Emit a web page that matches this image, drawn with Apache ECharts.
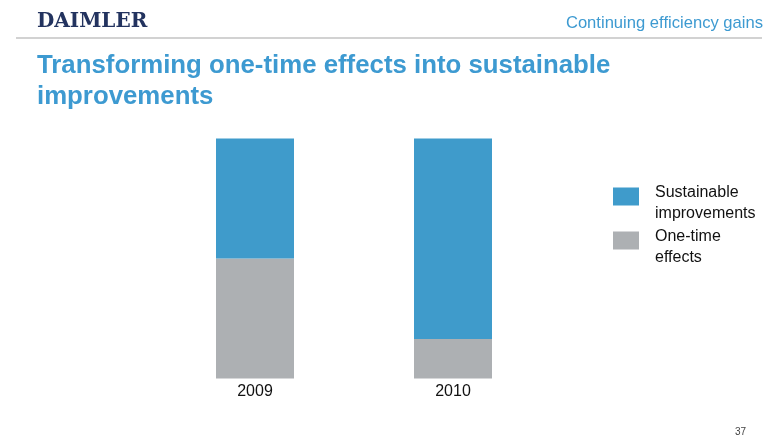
<!DOCTYPE html>
<html><head><meta charset="utf-8">
<script src="https://cdn.jsdelivr.net/npm/echarts@6/dist/echarts.min.js"></script>
<style>html,body{margin:0;padding:0;background:#fff}#c{width:780px;height:439px}</style>
</head><body><div id="c"></div>
<script>
const categories = ['2009', '2010'];
const oneTimeEffects = [50, 16.5];
const sustainableImprovements = [50, 83.5];
const seriesNames = ['Sustainable\nimprovements', 'One-time\neffects'];

const chart = echarts.init(document.getElementById('c'));
const blue = '#3f9bcb', grey = '#adb0b3', titleBlue = '#3d9ad1';
chart.setOption({
  animation: false,
  title: [
    { text: 'DAIMLER', left: 37, top: 12, padding: 0, textStyle: { fontFamily: 'DejaVu Serif', fontSize: 20, fontWeight: 'bold', color: '#23335f' } },
    { text: 'Continuing efficiency gains', right: 17, top: 15, padding: 0, textStyle: { fontFamily: 'Liberation Sans', fontSize: 16.6, fontWeight: 'normal', color: titleBlue } },
    { text: 'Transforming one-time effects into sustainable\nimprovements', left: 37, top: 50, padding: 0, textStyle: { fontFamily: 'Liberation Sans', fontSize: 25.8, fontWeight: 'bold', color: titleBlue, lineHeight: 31 } },
    { text: '37', right: 34, top: 427, padding: 0, textStyle: { fontFamily: 'Liberation Sans', fontSize: 10, fontWeight: 'normal', color: '#444' } }
  ],
  graphic: [
    { type: 'line', shape: { x1: 16, y1: 38, x2: 762, y2: 38 }, style: { stroke: '#d2d2d2', lineWidth: 2 } }
  ],
  legend: {
    orient: 'vertical', left: 613, top: 182, padding: 0, itemWidth: 26, itemHeight: 31, itemGap: 2,
    icon: 'path://M0,0H26V18H0Z M0,31H0.01V31Z',
    data: [seriesNames[0], seriesNames[1]],
    textStyle: { fontFamily: 'Liberation Sans', fontSize: 16, color: '#111', lineHeight: 21, padding: [0, 0, 0, 11] }
  },
  grid: { left: 156, width: 396, top: 138.5, height: 240, containLabel: false },
  xAxis: {
    type: 'category', data: categories,
    axisLine: { show: false }, axisTick: { show: false },
    axisLabel: { fontFamily: 'Liberation Sans', fontSize: 16, color: '#111', margin: 5 }
  },
  yAxis: { type: 'value', min: 0, max: 100, show: false, splitLine: { show: false } },
  series: [
    { name: seriesNames[1], type: 'bar', stack: 's', data: oneTimeEffects, barWidth: 78, itemStyle: { color: grey } },
    { name: seriesNames[0], type: 'bar', stack: 's', data: sustainableImprovements, barWidth: 78, itemStyle: { color: blue } }
  ]
});
</script></body></html>
